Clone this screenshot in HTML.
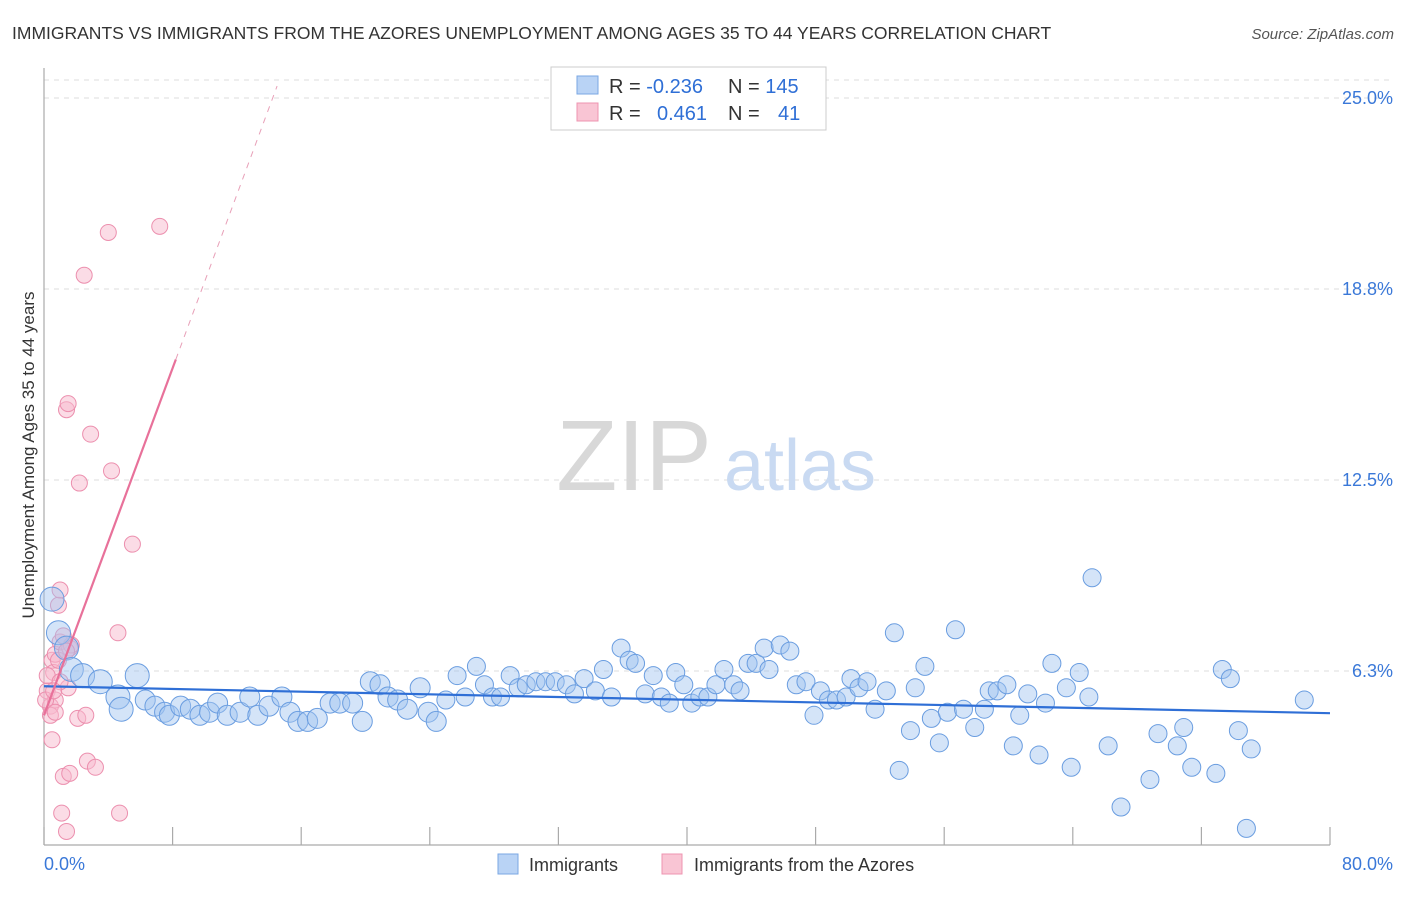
<!DOCTYPE html>
<html><head><meta charset="utf-8"><style>
body{margin:0;background:#fff;font-family:"Liberation Sans",sans-serif}
svg text{font-family:"Liberation Sans",sans-serif}
</style></head><body>
<svg id="chart" width="1406" height="892" viewBox="0 0 1406 892">
<text x="12" y="39" font-size="17.5" fill="#333">IMMIGRANTS VS IMMIGRANTS FROM THE AZORES UNEMPLOYMENT AMONG AGES 35 TO 44 YEARS CORRELATION CHART</text>
<text x="1394" y="39" font-size="15" fill="#555" text-anchor="end" font-style="italic">Source: ZipAtlas.com</text>
<g id="grid"></g>
<g id="axes"></g>
<text x="634" y="490" font-size="100" fill="#d8d8d8" font-family="Liberation Serif" text-anchor="middle">ZIP</text>
<text x="800" y="490" font-size="72" fill="#c9daf2" text-anchor="middle">atlas</text>
<g id="pinkpts"></g>
<g id="bluepts"></g>
<g id="lines"></g>
<text transform="translate(34,455) rotate(-90)" font-size="17" fill="#333" text-anchor="middle">Unemployment Among Ages 35 to 44 years</text>
<g>
<rect x="551" y="67" width="275" height="63" fill="#fff" stroke="#ccc"/>
<rect x="577" y="76" width="21" height="18" fill="#b9d3f5" stroke="#7aa7e3"/>
<rect x="577" y="103" width="21" height="18" fill="#f9c5d4" stroke="#ee94b0"/>
<text x="609" y="93" font-size="20" fill="#333">R = <tspan fill="#2f6fd6">-0.236</tspan></text>
<text x="728" y="93" font-size="20" fill="#333">N = <tspan fill="#2f6fd6">145</tspan></text>
<text x="609" y="120" font-size="20" fill="#333">R = </text><text x="657" y="120" font-size="20" fill="#2f6fd6">0.461</text>
<text x="728" y="120" font-size="20" fill="#333">N = </text><text x="778" y="120" font-size="20" fill="#2f6fd6">41</text>
</g>
<g>
<rect x="498" y="854" width="20" height="20" fill="#b9d3f5" stroke="#7aa7e3"/>
<text x="529" y="871" font-size="18" fill="#333">Immigrants</text>
<rect x="662" y="854" width="20" height="20" fill="#f9c5d4" stroke="#ee94b0"/>
<text x="694" y="871" font-size="18" fill="#333">Immigrants from the Azores</text>
</g>
</svg>
<script>
const yTicks=[6.25,12.5,18.75,25.0];
const yTickLabels=["6.3%","12.5%","18.8%","25.0%"];
const xTicks=[0,8,16,24,32,40,48,56,64,72,80];
const xLabels=["0.0%","80.0%"];
const blueX=[0.5,0.9,1.4,1.7,2.4,3.5,4.6,4.8,5.8,6.3,6.9,7.5,7.8,8.5,9.1,9.7,10.3,10.8,11.4,12.2,12.8,13.3,14.0,14.8,15.3,15.8,16.4,17.0,17.8,18.4,19.2,19.8,20.3,20.9,21.4,22.0,22.6,23.4,23.9,24.4,25.0,25.7,26.2,26.9,27.4,27.9,28.4,29.0,29.5,30.0,30.6,31.2,31.8,32.5,33.0,33.6,34.3,34.8,35.3,35.9,36.4,36.8,37.4,37.9,38.4,38.9,39.3,39.8,40.3,40.8,41.3,41.8,42.3,42.9,43.3,43.8,44.3,44.8,45.1,45.8,46.4,46.8,47.4,47.9,48.3,48.8,49.3,49.9,50.2,50.7,51.2,51.7,52.4,52.9,53.2,53.9,54.2,54.8,55.2,55.7,56.2,56.7,57.2,57.9,58.5,58.8,59.3,59.9,60.3,60.7,61.2,61.9,62.3,62.7,63.6,63.9,64.4,65.0,65.2,66.2,67.0,68.8,69.3,70.5,70.9,71.4,72.9,73.3,73.8,74.3,74.8,75.1,78.4];
const blueY=[8.6,7.5,7.0,6.3,6.1,5.9,5.4,5.0,6.1,5.3,5.1,4.9,4.8,5.1,5.0,4.8,4.9,5.2,4.8,4.9,5.4,4.8,5.1,5.4,4.9,4.6,4.6,4.7,5.2,5.2,5.2,4.6,5.9,5.8,5.4,5.3,5.0,5.7,4.9,4.6,5.3,6.1,5.4,6.4,5.8,5.4,5.4,6.1,5.7,5.8,5.9,5.9,5.9,5.8,5.5,6.0,5.6,6.3,5.4,7.0,6.6,6.5,5.5,6.1,5.4,5.2,6.2,5.8,5.2,5.4,5.4,5.8,6.3,5.8,5.6,6.5,6.5,7.0,6.3,7.1,6.9,5.8,5.9,4.8,5.6,5.3,5.3,5.4,6.0,5.7,5.9,5.0,5.6,7.5,3.0,4.3,5.7,6.4,4.7,3.9,4.9,7.6,5.0,4.4,5.0,5.6,5.6,5.8,3.8,4.8,5.5,3.5,5.2,6.5,5.7,3.1,6.2,5.4,9.3,3.8,1.8,2.7,4.2,3.8,4.4,3.1,2.9,6.3,6.0,4.3,1.1,3.7,5.3];
const pinkX=[0.2,0.4,0.4,0.5,0.5,0.6,0.7,0.7,0.9,1.0,1.0,1.1,1.2,1.4,1.4,1.5,1.5,1.6,1.6,1.7,2.1,2.2,2.5,2.6,2.7,2.9,3.2,4.0,4.2,4.6,4.7,5.5,7.2,0.1,0.2,0.7,1.0,0.9,1.2,0.6,1.4];
const pinkY=[5.6,5.1,4.8,4.0,6.6,6.2,5.3,6.8,8.4,8.9,7.2,1.6,2.8,1.0,14.8,15.0,5.7,2.9,7.0,7.1,4.7,12.4,19.2,4.8,3.3,14.0,3.1,20.6,12.8,7.5,1.6,10.4,20.8,5.3,6.1,4.9,5.9,6.6,7.4,5.6,6.9];
const blueLine=[5.75,4.87];
const pinkIntercept=4.8, pinkSlope=1.42;
const NS="http://www.w3.org/2000/svg";
const X=v=>44+v*(1286/80);
const Y=v=>862-v*(191/6.25);
function mk(t,p,a){const e=document.createElementNS(NS,t);for(const k in a)e.setAttribute(k,a[k]);p.appendChild(e);return e;}
const grid=document.getElementById('grid'),axes=document.getElementById('axes');
mk('line',grid,{x1:44,x2:1394,y1:80,y2:80,stroke:'#ddd','stroke-dasharray':'5,5'});
yTicks.forEach((t,i)=>{
 const l=mk('line',grid,{x1:44,x2:1394,y1:Y(t),y2:Y(t),stroke:'#ddd','stroke-dasharray':'5,5'});
 
 
 const tx=mk('text',axes,{x:1393,y:Y(t)+6,'font-size':18,fill:'#3a78d8','text-anchor':'end'});
 tx.textContent=yTickLabels[i];
 
 
});
mk('line',axes,{x1:44,x2:44,y1:68,y2:845,stroke:'#aaa','stroke-width':1.2});
mk('line',axes,{x1:44,x2:1330,y1:845,y2:845,stroke:'#aaa','stroke-width':1.2});
xTicks.forEach(t=>{
 const l=mk('line',axes,{x1:X(t),x2:X(t),y1:827,y2:845,stroke:'#aaa','stroke-width':1.2});
 
 
});
const xl0=mk('text',axes,{x:44,y:870,'font-size':18,fill:'#3a78d8'});xl0.textContent=xLabels[0];


const xl1=mk('text',axes,{x:1393,y:870,'font-size':18,fill:'#3a78d8','text-anchor':'end'});xl1.textContent=xLabels[1];


const bp=document.getElementById('bluepts');
blueX.forEach((x,i)=>{
 const r=x<6?12:(x<25?10:9);
 const c=mk('circle',bp,{cx:X(x),cy:Y(blueY[i]),r:r,fill:'rgba(160,196,240,0.45)',stroke:'#6a9de0','stroke-width':1});
 
 
});
const pp=document.getElementById('pinkpts');
pinkX.forEach((x,i)=>{
 const c=mk('circle',pp,{cx:X(x),cy:Y(pinkY[i]),r:8,fill:'rgba(248,186,206,0.5)',stroke:'#ec8fae','stroke-width':1});
 
 
});
const lg=document.getElementById('lines');
const bl=mk('line',lg,{x1:X(0),y1:Y(blueLine[0]),x2:X(80),y2:Y(blueLine[1]),stroke:'#2f6fd6','stroke-width':2.2});


const pl=mk('line',lg,{x1:X(0),y1:Y(pinkIntercept),x2:X(8.2),y2:Y(pinkIntercept+pinkSlope*8.2),stroke:'#e8719a','stroke-width':2.2});


const pd=mk('line',lg,{x1:X(8.2),y1:Y(pinkIntercept+pinkSlope*8.2),x2:X(14.5),y2:Y(pinkIntercept+pinkSlope*14.5),stroke:'#e8a0b8','stroke-width':1,'stroke-dasharray':'6,6'});


</script>
</body></html>
